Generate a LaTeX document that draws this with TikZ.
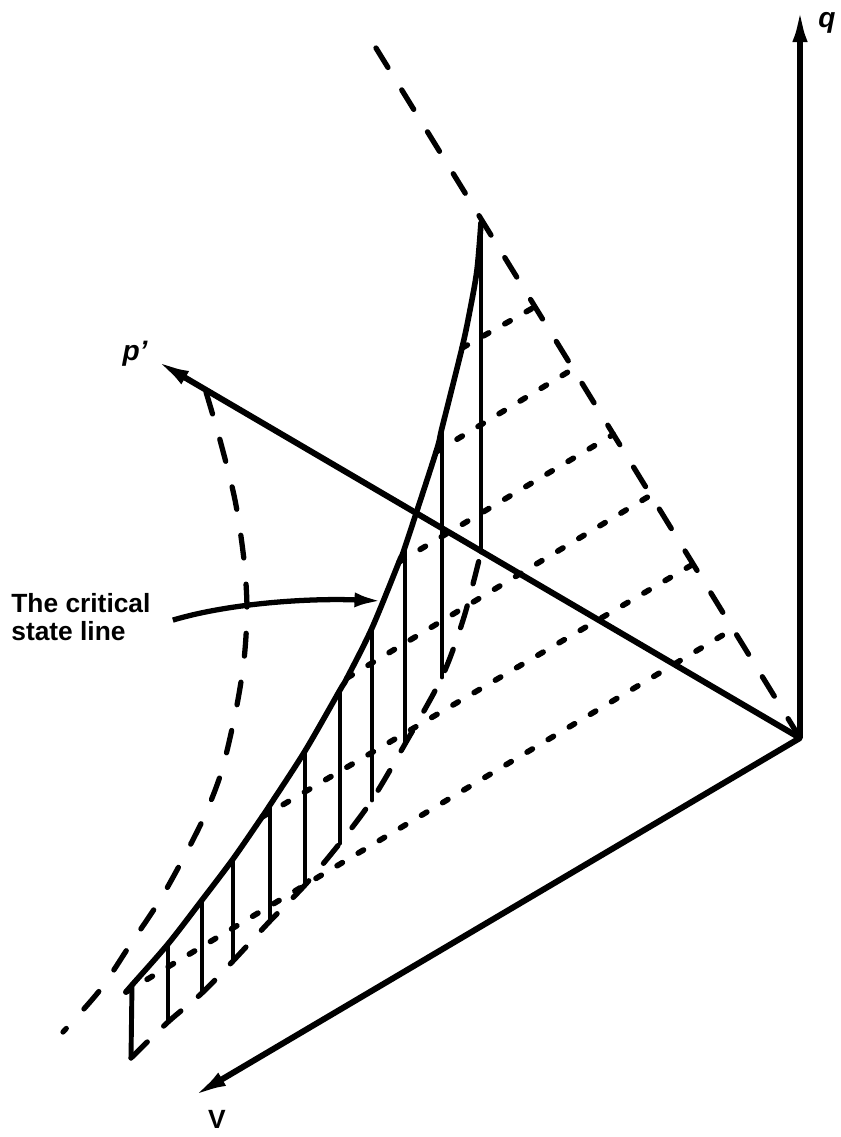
\documentclass[tikz,border=0pt]{standalone}
\usepackage{fontspec}
\setmainfont{Liberation Sans}
\usetikzlibrary{arrows.meta,calc}

\begin{document}
\begin{tikzpicture}[x=0.02cm, y=-0.02cm,
  font=\fontsize{15}{16}\selectfont\bfseries,
  ax/.style={line width=3.4pt, -{Latex[length=7mm,width=3mm]}},
  sl/.style={line width=2.8pt, line cap=round},
  cl/.style={line width=3.2pt, line cap=round},
  ds/.style={line width=3pt, line cap=round, dash pattern=on 13pt off 15pt},
  dl/.style={line width=3pt, line cap=round, dash pattern=on 13pt off 13pt},
  dt/.style={line width=3.2pt, line cap=round, dash pattern=on 3.5pt off 10.5pt},
  lb/.style={inner sep=0pt}]
\useasboundingbox (0,0) rectangle (840,1137);
\coordinate (O) at (800,738);
\coordinate (qe) at (800,7);
\coordinate (pe) at (155,360);
\coordinate (ve) at (192,1097);
\coordinate (T) at (376,48);
\coordinate (d6) at (126,992); \coordinate (c1) at (132,985); \coordinate (c2) at (168,944);
\coordinate (c3) at (202,900); \coordinate (c4) at (233,859); \coordinate (d5) at (262,817);
\coordinate (c5) at (270,805); \coordinate (c6) at (305,751); \coordinate (c7) at (340,690);
\coordinate (d4) at (347,678); \coordinate (c8) at (372,628); \coordinate (d3) at (399,562);
\coordinate (c9) at (405,547); \coordinate (d2) at (436,452); \coordinate (c10) at (442,428);
\coordinate (d1) at (462,348); \coordinate (c11) at (481,223);
\coordinate (b1) at (131,1058); \coordinate (b2) at (168,1022); \coordinate (b3) at (202,993);
\coordinate (b4) at (233,961); \coordinate (b5) at (270,921); \coordinate (b6) at (305,885);
\coordinate (b7) at (340,843); \coordinate (b8) at (372,800); \coordinate (b9) at (405,744);
\coordinate (b10) at (442,677); \coordinate (b11) at (481,552);
\coordinate (e1) at ($(O)!0.625!(T)$); \coordinate (e2) at ($(O)!0.535!(T)$);
\coordinate (e3) at ($(O)!0.44!(T)$); \coordinate (e4) at ($(O)!0.352!(T)$);
\coordinate (e5) at ($(O)!0.252!(T)$); \coordinate (e6) at ($(O)!0.158!(T)$);
\draw[ds] (T) -- (O);
\draw[ds] plot[smooth] coordinates {(206,392) (220,440) (235,500) (244,560) (247,610) (244,660)
  (236,710) (222,770) (205,815) (185,855) (160,900) (130,945) (100,990) (63,1032)};
\draw[dl] plot[smooth] coordinates {(b1) (b2) (b3) (b4) (b5) (b6) (b7) (b8) (b9) (b10) (464,617) (b11)};
\draw[dt] (d1) -- (e1); \draw[dt] (d2) -- (e2); \draw[dt] (d3) -- (e3);
\draw[dt] (d4) -- (e4); \draw[dt] (d5) -- (e5); \draw[dt] (d6) -- (e6);
\draw[sl] (c1) -- (b1); \draw[sl] (c2) -- (b2); \draw[sl] (c3) -- (b3); \draw[sl] (c4) -- (b4);
\draw[sl] (c5) -- (b5); \draw[sl] (c6) -- (b6); \draw[sl] (c7) -- (b7); \draw[sl] (c8) -- (b8);
\draw[sl] (c9) -- (b9); \draw[sl] (c10) -- (b10); \draw[sl] (c11) -- (b11);
\draw[cl] plot[smooth, tension=0.5] coordinates {(d6) (c1) (c2) (c3) (c4) (d5) (c5) (c6) (c7) (d4)
  (c8) (d3) (c9) (d2) (c10) (d1) (470,310) (477,270) (c11)};
\draw[ax] (O) -- (qe); \draw[ax] (O) -- (pe); \draw[ax] (O) -- (ve);
\node[lb, font=\fontsize{16}{16}\selectfont\bfseries\itshape] (ql) at (827,23) {q};
\node[lb, font=\fontsize{16}{16}\selectfont\bfseries\itshape] (pl) at (135,354) {p'};
\node[lb] (vl) at (217,1119) {V};
\node[lb, align=left, anchor=north west] (lbl) at (11,593) {The critical\\state line};
\coordinate (tip) at (382,601);
\draw[line width=3pt, -{Latex[length=5.5mm,width=3mm]}] ($(lbl.east)+(22,3)$)
  .. controls (230,603) and (310,598) .. (tip);
\end{tikzpicture}
\end{document}
